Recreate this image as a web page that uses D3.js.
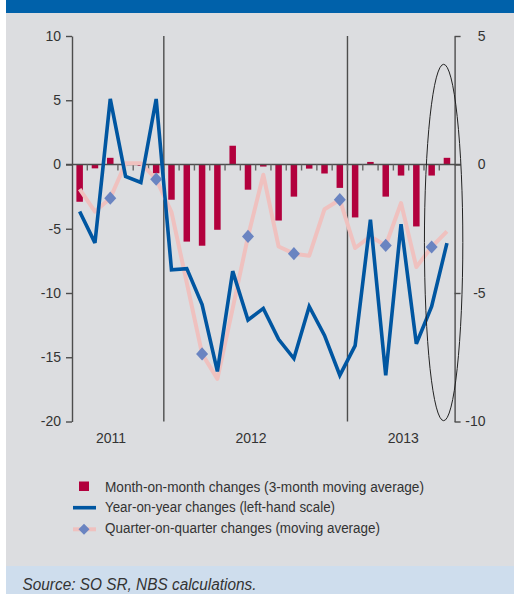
<!DOCTYPE html>
<html>
<head>
<meta charset="utf-8">
<script src="https://cdn.jsdelivr.net/npm/d3@7/dist/d3.min.js"></script>
<style>
  html, body { margin: 0; padding: 0; background: #ffffff; }
  svg { display: block; }
  text { font-family: "Liberation Sans", Arial, sans-serif; fill: #333; }
</style>
</head>
<body>
<svg id="chart" width="514" height="594"></svg>
<script>
// Monthly observations, Jul 2011 - Jul 2013
const months = [
  "2011-07","2011-08","2011-09","2011-10","2011-11","2011-12",
  "2012-01","2012-02","2012-03","2012-04","2012-05","2012-06",
  "2012-07","2012-08","2012-09","2012-10","2012-11","2012-12",
  "2013-01","2013-02","2013-03","2013-04","2013-05","2013-06","2013-07"
];

// Month-on-month changes, 3-month moving average (right-hand scale)
const momChange = [
  -1.45, -0.15, 0.26, 0.0, -0.05, -0.34,
  -1.37, -3.0, -3.16, -2.54, 0.73, -0.98,
  -0.08, -2.18, -1.25, -0.16, -0.35, -0.91,
  -2.06, 0.1, -1.25, -0.43, -2.41, -0.43, 0.26
];

// Year-on-year changes (left-hand scale)
const yoyChange = [
  -3.66, -6.1, 5.1, -0.93, -1.4, 5.1,
  -8.2, -8.1, -10.9, -16.1, -8.3, -12.1,
  -11.2, -13.6, -15.1, -11.05, -13.3, -16.4,
  -14.1, -4.3, -16.4, -4.64, -13.95, -11.05, -6.12
];

// Quarter-on-quarter changes, moving average (right-hand scale)
const qoqChange = [
  -0.96, -1.83, -1.31, 0.05, 0.05, -0.57,
  -1.85, -4.6, -7.37, -8.34, -5.6, -2.8,
  -0.4, -3.19, -3.47, -3.55, -1.74, -1.37,
  -3.25, -2.8, -3.15, -1.5, -3.99, -3.21, -2.6
];

const leftTicks = [10, 5, 0, -5, -10, -15, -20];
const rightTicks = [5, 0, -5, -10];
const years = ["2011", "2012", "2013"];

const legendItems = [
  "Month-on-month changes (3-month moving average)",
  "Year-on-year changes (left-hand scale)",
  "Quarter-on-quarter changes (moving average)"
];
const sourceNote = "Source: SO SR, NBS calculations.";

const C = {
  panel: "#dcdde0",
  header: "#0061aa",
  source: "#cedded",
  axis: "#4d4d4d",
  bar: "#b2003d",
  yoy: "#0056a1",
  qoq: "#efc1bf",
  diamond: "#6a84c1"
};

const svg = d3.select("#chart");

// background panels
svg.append("rect").attr("x", 6).attr("y", 0).attr("width", 508).attr("height", 594).attr("fill", C.panel);
svg.append("rect").attr("x", 6).attr("y", 0).attr("width", 508).attr("height", 13).attr("fill", C.header);
svg.append("rect").attr("x", 6).attr("y", 566).attr("width", 508).attr("height", 28).attr("fill", C.source);

const plot = { left: 72, right: 454.6, top: 36, bottom: 421.5 };

const x = d3.scaleBand().domain(months).range([plot.left, plot.right]).padding(0);
const yL = d3.scaleLinear().domain([-20, 10]).range([plot.bottom, plot.top]);
const yR = d3.scaleLinear().domain([-10, 5]).range([plot.bottom, plot.top]);
const cx = m => x(m) + x.bandwidth() / 2;

// year separators
const yearStarts = months.filter(m => m.endsWith("-01"));
svg.append("g").selectAll("line").data(yearStarts).join("line")
  .attr("x1", d => x(d)).attr("x2", d => x(d))
  .attr("y1", plot.top).attr("y2", plot.bottom)
  .attr("stroke", C.axis).attr("stroke-width", 1.4);

// bars
const barW = 6.5;
svg.append("g").selectAll("rect").data(months).join("rect")
  .attr("x", (d) => cx(d) - barW / 2)
  .attr("width", barW)
  .attr("y", (d, i) => Math.min(yR(momChange[i]), yR(0)))
  .attr("height", (d, i) => Math.abs(yR(momChange[i]) - yR(0)))
  .attr("fill", C.bar);

// zero line with month ticks
svg.append("line")
  .attr("x1", plot.left - 6).attr("x2", plot.right + 6)
  .attr("y1", yL(0)).attr("y2", yL(0))
  .attr("stroke", C.axis).attr("stroke-width", 1.4);
svg.append("g").selectAll("line").data(months.slice(1)).join("line")
  .attr("x1", d => x(d)).attr("x2", d => x(d))
  .attr("y1", yL(0)).attr("y2", yL(0) + 6)
  .attr("stroke", "#666").attr("stroke-width", 1.4);

// quarter-on-quarter line
const qoqLine = d3.line().x((d, i) => cx(months[i])).y(d => yR(d));
svg.append("path").datum(qoqChange)
  .attr("d", qoqLine)
  .attr("fill", "none").attr("stroke", C.qoq)
  .attr("stroke-width", 4).attr("stroke-linejoin", "round");

// year-on-year line
const yoyLine = d3.line().x((d, i) => cx(months[i])).y(d => yL(d));
svg.append("path").datum(yoyChange)
  .attr("d", yoyLine)
  .attr("fill", "none").attr("stroke", C.yoy)
  .attr("stroke-width", 3.6).attr("stroke-linejoin", "miter").attr("stroke-miterlimit", 3);

// quarter-end diamonds
const diamond = (w, h) => `M0,${-h}L${w},0L0,${h}L${-w},0Z`;
const quarterEnds = months.map((m, i) => ({ m, v: qoqChange[i] }))
  .filter(d => ["03", "06", "09", "12"].includes(d.m.slice(5)));
svg.append("g").selectAll("path").data(quarterEnds).join("path")
  .attr("d", diamond(6, 6.6))
  .attr("transform", d => `translate(${cx(d.m)},${yR(d.v)})`)
  .attr("fill", C.diamond);

// left axis
const axL = svg.append("g").attr("transform", `translate(${plot.left},0)`)
  .call(d3.axisLeft(yL).tickValues(leftTicks).tickSize(6).tickSizeOuter(0).tickPadding(5).tickFormat(d3.format("d")));
axL.select(".domain").attr("stroke", C.axis).attr("stroke-width", 1.4);
axL.selectAll(".tick line").attr("stroke", C.axis).attr("stroke-width", 1.4);
axL.selectAll(".tick text").attr("font-size", 14).attr("fill", "#333")
  .attr("font-family", "'Liberation Sans', Arial, sans-serif").text(d => d < 0 ? "-" + Math.abs(d) : d);

// right axis
const axR = svg.append("g").attr("transform", `translate(${plot.right},0)`)
  .call(d3.axisRight(yR).tickValues(rightTicks).tickSize(6).tickSizeOuter(0).tickPadding(0).tickFormat(d3.format("d")));
axR.select(".domain").attr("stroke", C.axis).attr("stroke-width", 1.4);
axR.selectAll(".tick line").attr("stroke", C.axis).attr("stroke-width", 1.4);
axR.selectAll(".tick text").attr("font-size", 14).attr("fill", "#333")
  .attr("font-family", "'Liberation Sans', Arial, sans-serif")
  .attr("text-anchor", "end").attr("x", 31)
  .text(d => d < 0 ? "-" + Math.abs(d) : d);

// year labels, placed under each year's span of months
const yearAnchor = { "2011": ["2011-09", 0.55], "2012": ["2012-06", 0.7], "2013": ["2013-04", 0.65] };
svg.append("g").selectAll("text").data(years).join("text")
  .attr("x", d => x(yearAnchor[d][0]) + x.bandwidth() * yearAnchor[d][1])
  .attr("y", 442.5)
  .attr("text-anchor", "middle").attr("font-size", 14)
  .text(d => d);

// highlight ellipse around the latest months
svg.append("ellipse")
  .attr("cx", (cx("2013-07") + x("2013-07")) / 2 + 0.5)
  .attr("cy", (plot.top + 64.3 - plot.top + plot.bottom - 0.8) / 2)
  .attr("rx", 19.2).attr("ry", 178.2)
  .attr("fill", "none").attr("stroke", "#222").attr("stroke-width", 1);

// legend
const lg = svg.append("g");
lg.append("rect").attr("x", 79).attr("y", 481.5).attr("width", 10).attr("height", 9.5).attr("fill", C.bar);
lg.append("line").attr("x1", 73).attr("x2", 96).attr("y1", 507.7).attr("y2", 507.7)
  .attr("stroke", C.yoy).attr("stroke-width", 3.6);
lg.append("line").attr("x1", 73).attr("x2", 96).attr("y1", 529.3).attr("y2", 529.3)
  .attr("stroke", C.qoq).attr("stroke-width", 4);
lg.append("path").attr("d", diamond(5.5, 5.5)).attr("transform", "translate(84,529.3)").attr("fill", C.diamond);

const legendWidths = [319, 230, 275];
lg.selectAll("text.item").data(legendItems).join("text")
  .attr("class", "item")
  .attr("x", 105).attr("y", (d, i) => 491.5 + i * 20.8)
  .attr("font-size", 14)
  .attr("textLength", (d, i) => legendWidths[i]).attr("lengthAdjust", "spacingAndGlyphs")
  .text(d => d);

// source note
svg.append("text")
  .attr("x", 22.5).attr("y", 590)
  .attr("font-size", 16).attr("font-style", "italic")
  .attr("textLength", 234).attr("lengthAdjust", "spacingAndGlyphs")
  .attr("fill", "#333")
  .text(sourceNote);
</script>
</body>
</html>
